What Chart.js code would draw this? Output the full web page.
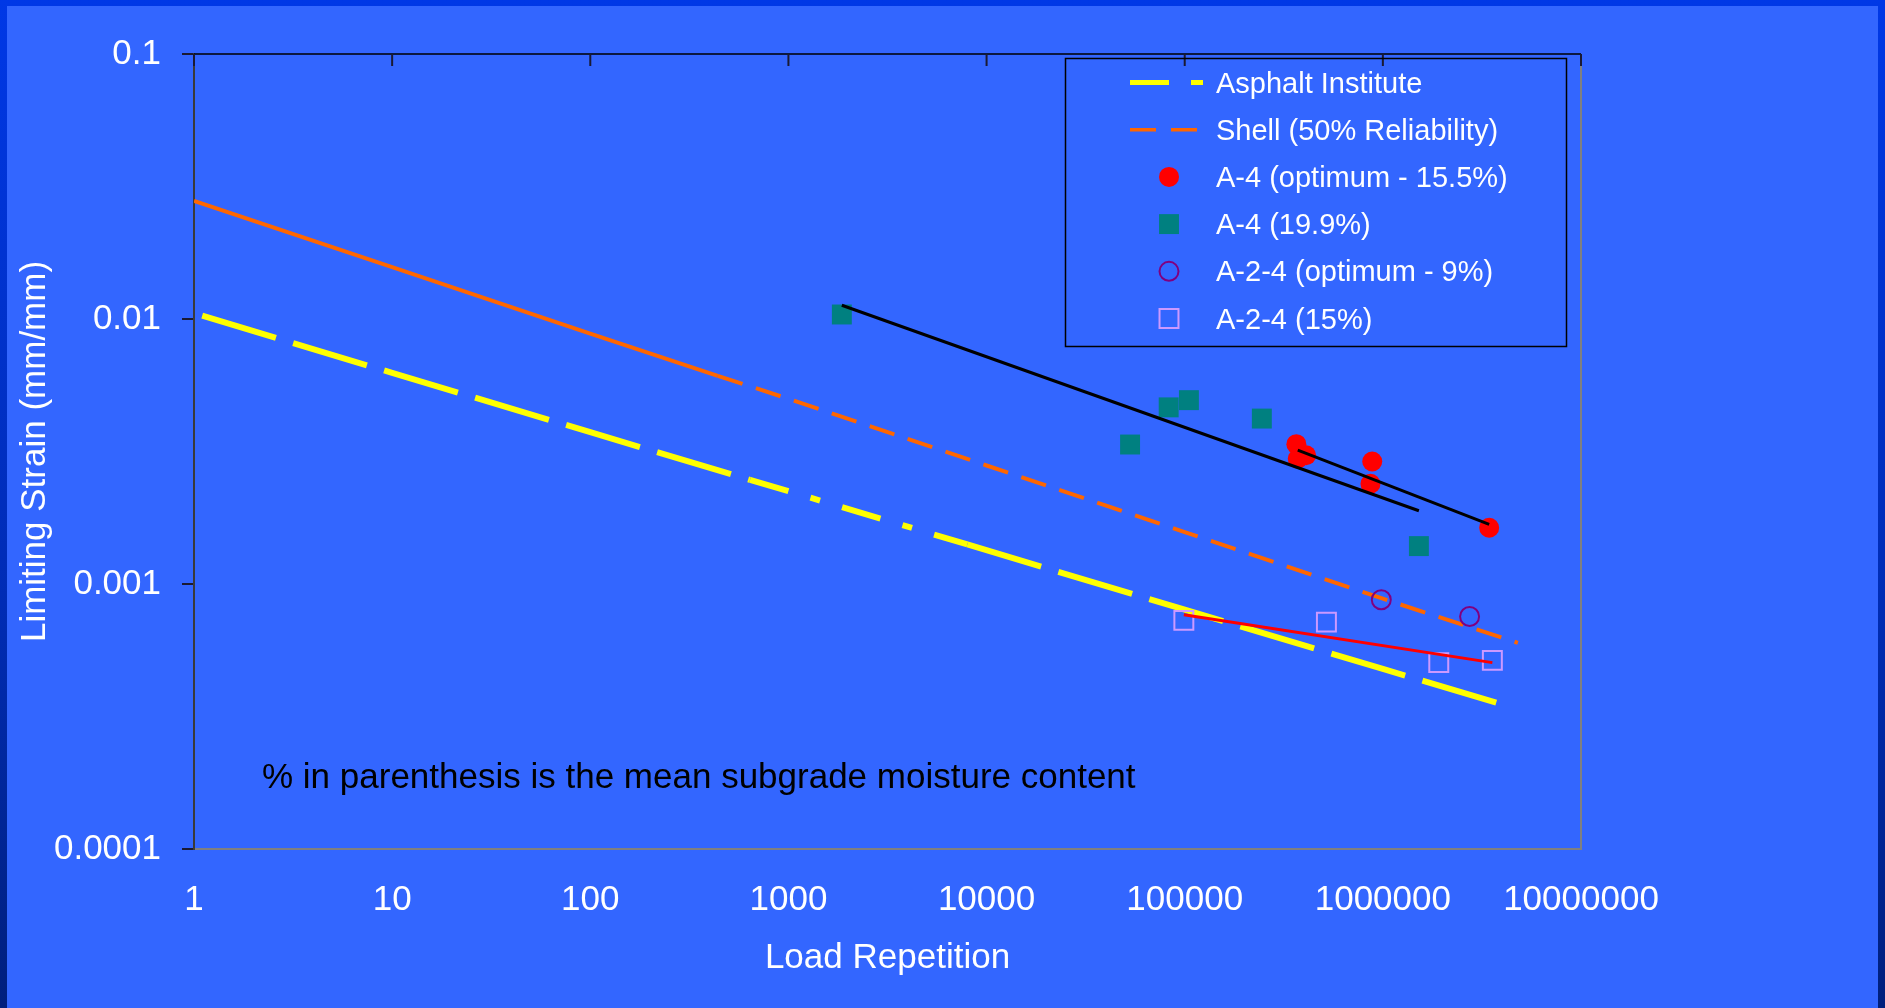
<!DOCTYPE html>
<html>
<head>
<meta charset="utf-8">
<title>Limiting Strain vs Load Repetition</title>
<script src="https://cdn.jsdelivr.net/npm/chart.js@4.4.1/dist/chart.umd.min.js"></script>
<style>
  html, body { margin: 0; padding: 0; width: 1885px; height: 1008px; overflow: hidden; }
  body { position: relative; background: linear-gradient(to bottom, #0038e6 0%, #002cb4 60%, #001f7c 100%); }
  #panel { position: absolute; left: 7px; top: 6px; right: 7px; bottom: 0; background: #3366ff; }
  #chart { position: absolute; left: 0; top: 0; }
</style>
</head>
<body>
<div id="panel"></div>
<canvas id="chart" width="1885" height="1008"></canvas>
<script>
const FONT = "'Liberation Sans', Arial, sans-serif";

const xTicks = [1, 10, 100, 1000, 10000, 100000, 1000000, 10000000];
const yTicks = [0.0001, 0.001, 0.01, 0.1];

// design criteria
const asphaltN = [1.1, 10, 100, 640, 1000, 8000, 100000, 1000000, 4400000];
const asphaltStrain = [0.0103, 0.00626, 0.00374, 0.00247, 0.00224, 0.00141, 0.0008, 0.000478, 0.000344];
const shellN = [1, 10, 100, 440, 1000, 10000, 100000, 1000000, 4800000];
const shellStrain = [0.0279, 0.0157, 0.0088, 0.0061, 0.0050, 0.0028, 0.00157, 0.00088, 0.0006];

// measured
const a4OptN = [366000, 410000, 372000, 884000, 866000, 3440000];
const a4OptStrain = [0.00337, 0.00306, 0.00297, 0.0029, 0.00239, 0.00163];
const a4WetN = [1860, 53000, 83000, 105000, 245000, 1520000];
const a4WetStrain = [0.0104, 0.00336, 0.00464, 0.00494, 0.00421, 0.00139];
const a24OptN = [982000, 2740000];
const a24OptStrain = [0.000872, 0.000754];
const a24WetN = [99000, 519000, 1915000, 3570000];
const a24WetStrain = [0.000729, 0.000718, 0.000505, 0.000515];

// trendlines
const fitA4WetN = [1860, 1520000];
const fitA4WetStrain = [0.01127, 0.00189];
const fitA4OptN = [372000, 3440000];
const fitA4OptStrain = [0.0032, 0.00168];
const fitA24WetN = [99000, 3570000];
const fitA24WetStrain = [0.000766, 0.000505];

const note = '% in parenthesis is the mean subgrade moisture content';
const legendOrder = ['Asphalt Institute', 'Shell (50% Reliability)', 'A-4 (optimum - 15.5%)',
  'A-4 (19.9%)', 'A-2-4 (optimum - 9%)', 'A-2-4 (15%)'];

const pts = (xs, ys) => xs.map((x, i) => ({x: x, y: ys[i]}));
const trend = (xs, ys, color) => ({
  label: '', data: pts(xs, ys), showLine: true, borderColor: color, borderWidth: 3,
  pointRadius: 0, order: 0
});

const datasets = [
  trend(fitA4WetN, fitA4WetStrain, '#000000'),
  trend(fitA4OptN, fitA4OptStrain, '#000000'),
  trend(fitA24WetN, fitA24WetStrain, '#ff0000'),
  {
    label: 'A-4 (optimum - 15.5%)', data: pts(a4OptN, a4OptStrain),
    pointStyle: 'circle', pointRadius: 10, backgroundColor: '#ff0000', borderColor: '#ff0000', borderWidth: 0, order: 1
  },
  {
    label: 'A-4 (19.9%)', data: pts(a4WetN, a4WetStrain),
    pointStyle: 'rect', pointRadius: 14.1, backgroundColor: '#008080', borderColor: '#008080', borderWidth: 0, order: 1
  },
  {
    label: 'A-2-4 (optimum - 9%)', data: pts(a24OptN, a24OptStrain),
    pointStyle: 'circle', pointRadius: 9.5, backgroundColor: 'rgba(0,0,0,0)', borderColor: '#800080', borderWidth: 2, order: 1
  },
  {
    label: 'A-2-4 (15%)', data: pts(a24WetN, a24WetStrain),
    pointStyle: 'rect', pointRadius: 13.4, backgroundColor: 'rgba(0,0,0,0)', borderColor: '#cc99ff', borderWidth: 2, order: 1
  },
  {
    label: 'Asphalt Institute', data: pts(asphaltN, asphaltStrain), showLine: true,
    borderColor: '#ffff00', borderWidth: 6, borderDash: [77, 18], pointRadius: 0, order: 2,
    segment: {
      borderDash: c => (c.p0.parsed.x >= 640 && c.p0.parsed.x < 8000) ? [40, 23, 10, 23] : undefined
    },
    legendDash: [39, 22, 12, 22], legendWidth: 5
  },
  {
    label: 'Shell (50% Reliability)', data: pts(shellN, shellStrain), showLine: true,
    borderColor: '#ff6600', borderWidth: 4, borderDash: [], pointRadius: 0, order: 2,
    segment: {
      borderDash: c => c.p0.parsed.x >= 440 ? [26, 14] : undefined
    },
    legendDash: [26, 15], legendWidth: 3.5
  }
];

// plot frame: black top edge with inward ticks, grey right edge
const framePlugin = {
  id: 'frame',
  afterDraw(chart) {
    const ctx = chart.ctx, a = chart.chartArea, x = chart.scales.x;
    ctx.save();
    ctx.strokeStyle = '#808080';
    ctx.lineWidth = 2;
    ctx.beginPath();
    ctx.moveTo(a.right, a.top);
    ctx.lineTo(a.right, a.bottom);
    ctx.stroke();
    ctx.strokeStyle = '#000000';
    ctx.lineWidth = 1.5;
    ctx.beginPath();
    ctx.moveTo(a.left, a.top);
    ctx.lineTo(a.right, a.top);
    ctx.stroke();
    ctx.strokeStyle = '#1a1a33';
    ctx.lineWidth = 2;
    ctx.beginPath();
    xTicks.forEach(v => {
      const px = x.getPixelForValue(v);
      ctx.moveTo(px, a.top);
      ctx.lineTo(px, a.top + 12);
    });
    ctx.stroke();

    ctx.fillStyle = '#000000';
    ctx.font = '35px ' + FONT;
    ctx.textBaseline = 'alphabetic';
    ctx.fillText(note, 262, 788);
    ctx.restore();
  }
};

const legendPlugin = {
  id: 'boxLegend',
  afterDraw(chart) {
    const ctx = chart.ctx;
    ctx.save();
    ctx.strokeStyle = '#000000';
    ctx.lineWidth = 1.5;
    ctx.strokeRect(1065.5, 58.5, 501, 288);
    ctx.font = '29px ' + FONT;
    ctx.textBaseline = 'alphabetic';
    legendOrder.forEach((label, i) => {
      const ds = chart.data.datasets.find(d => d.label === label);
      const base = 92.5 + i * 47.2;
      const cy = base - 10;
      ctx.save();
      if (ds.showLine) {
        ctx.strokeStyle = ds.borderColor;
        ctx.lineWidth = ds.legendWidth;
        ctx.setLineDash(ds.legendDash);
        ctx.beginPath();
        ctx.moveTo(1130, cy);
        ctx.lineTo(1203, cy);
        ctx.stroke();
      } else {
        const cx = 1169, r = ds.pointRadius;
        ctx.beginPath();
        if (ds.pointStyle === 'circle') {
          ctx.arc(cx, cy, r, 0, Math.PI * 2);
        } else {
          const h = r * Math.SQRT1_2;
          ctx.rect(cx - h, cy - h, 2 * h, 2 * h);
        }
        ctx.fillStyle = ds.backgroundColor;
        ctx.fill();
        if (ds.borderWidth > 0) {
          ctx.strokeStyle = ds.borderColor;
          ctx.lineWidth = ds.borderWidth;
          ctx.stroke();
        }
      }
      ctx.restore();
      ctx.fillStyle = '#ffffff';
      ctx.fillText(label, 1216, base);
    });
    ctx.restore();
  }
};

Chart.defaults.font.family = FONT;

const strainChart = new Chart(document.getElementById('chart'), {
  type: 'scatter',
  data: { datasets: datasets },
  options: {
    responsive: false,
    animation: false,
    devicePixelRatio: 1,
    events: [],
    layout: { padding: { left: 0, top: 54, right: 304, bottom: 0 } },
    plugins: {
      legend: { display: false },
      tooltip: { enabled: false }
    },
    scales: {
      x: {
        type: 'logarithmic',
        position: 'bottom',
        min: 1,
        max: 10000000,
        afterBuildTicks: s => { s.ticks = xTicks.map(v => ({value: v})); },
        afterFit: s => { s.height = 159; s.paddingLeft = 0; s.paddingRight = 0; },
        grid: { display: false, drawTicks: false },
        border: { display: true, color: '#808080', width: 2 },
        ticks: {
          color: '#ffffff', font: { size: 35 }, padding: 30,
          maxRotation: 0, autoSkip: false, callback: v => String(v)
        },
        title: {
          display: true, text: 'Load Repetition', color: '#ffffff',
          font: { size: 35 }, padding: { top: 0, bottom: 29 }
        }
      },
      y: {
        type: 'logarithmic',
        position: 'left',
        min: 0.0001,
        max: 0.1,
        afterBuildTicks: s => { s.ticks = yTicks.map(v => ({value: v})); },
        afterFit: s => { s.width = 194; s.paddingTop = 0; s.paddingBottom = 0; },
        grid: { drawOnChartArea: false, drawTicks: true, tickLength: 12, color: '#1a1a33', lineWidth: 2 },
        border: { display: true, color: '#3a3a3a', width: 2 },
        ticks: {
          color: '#ffffff', font: { size: 35 }, padding: 21,
          autoSkip: false, callback: v => String(v)
        },
        title: {
          display: true, text: 'Limiting Strain (mm/mm)', color: '#ffffff',
          font: { size: 35 }, padding: { top: 14, bottom: 0 }
        }
      }
    }
  },
  plugins: [framePlugin, legendPlugin]
});
</script>
</body>
</html>
